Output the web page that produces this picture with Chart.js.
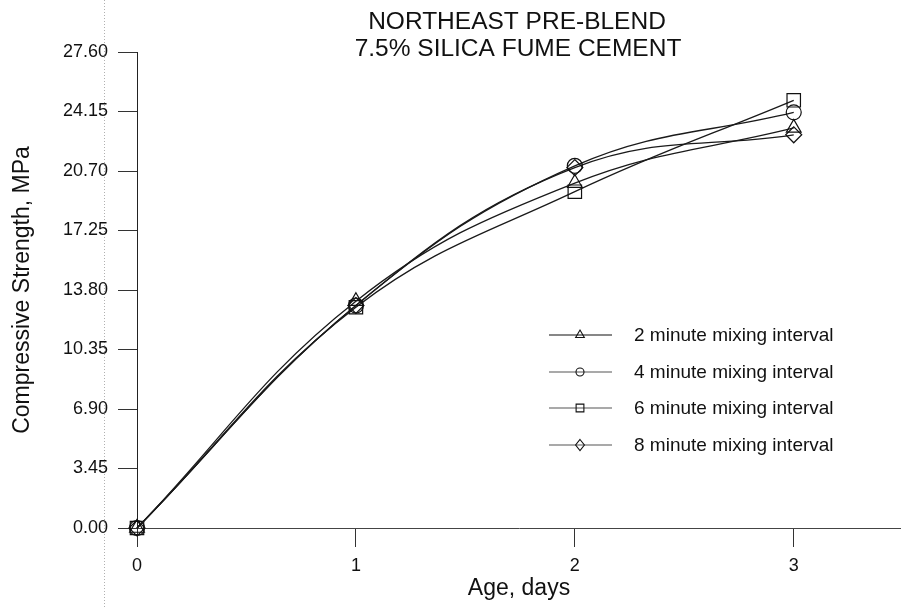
<!DOCTYPE html>
<html>
<head>
<meta charset="utf-8">
<script src="https://cdn.jsdelivr.net/npm/chart.js@4/dist/chart.umd.min.js"></script>
<style>
  html, body { margin: 0; padding: 0; background: #fff; }
  #wrap { width: 901px; height: 608px; position: relative; }
</style>
</head>
<body>
<div id="wrap"><canvas id="c" width="901" height="608"></canvas></div>
<script>
// ---- data ----
const ages = [0, 1, 2, 3];
const labels2min = "2 minute mixing interval";
const labels4min = "4 minute mixing interval";
const labels6min = "6 minute mixing interval";
const labels8min = "8 minute mixing interval";
const strength2min = [0, 13.15, 20.0, 23.2];
const strength4min = [0, 12.9, 21.0, 24.1];
const strength6min = [0, 12.8, 19.5, 24.8];
const strength8min = [0, 12.9, 20.9, 22.8];
const yTicks = [0, 3.45, 6.90, 10.35, 13.80, 17.25, 20.70, 24.15, 27.60];
const xTicks = [0, 1, 2, 3];
const titleLines = ["NORTHEAST PRE-BLEND", "7.5% SILICA FUME CEMENT"];

const FONT = "'Liberation Sans', Arial, sans-serif";

function series(label, values, style, radius, legendRadius) {
  return {
    label: label,
    data: ages.map((a, i) => ({ x: a, y: values[i] })),
    borderColor: '#1a1a1a',
    borderWidth: 1.3,
    backgroundColor: 'rgba(0,0,0,0)',
    pointStyle: style,
    pointRadius: radius,
    pointBorderColor: '#111',
    pointBackgroundColor: 'rgba(0,0,0,0)',
    pointBorderWidth: 1.2,
    tension: 0.4,
    fill: false,
    clip: false,
    legendRadius: legendRadius
  };
}

const datasets = [
  series(labels2min, strength2min, 'triangle', 8.5, 5),
  series(labels4min, strength4min, 'circle', 7.5, 4),
  series(labels6min, strength6min, 'rect', 9.5, 5.5),
  series(labels8min, strength8min, 'rectRot', 8, 5.5)
];

function drawMarker(ctx, style, r, x, y) {
  ctx.beginPath();
  if (style === 'circle') {
    ctx.arc(x, y, r, 0, Math.PI * 2);
  } else if (style === 'triangle') {
    ctx.moveTo(x, y - r);
    ctx.lineTo(x + r * Math.cos(Math.PI / 6), y + r * 0.5);
    ctx.lineTo(x - r * Math.cos(Math.PI / 6), y + r * 0.5);
    ctx.closePath();
  } else if (style === 'rect') {
    const s = r * Math.SQRT1_2;
    ctx.rect(x - s, y - s, 2 * s, 2 * s);
  } else if (style === 'rectRot') {
    ctx.moveTo(x, y - r);
    ctx.lineTo(x + r * 0.8, y);
    ctx.lineTo(x, y + r);
    ctx.lineTo(x - r * 0.8, y);
    ctx.closePath();
  }
  ctx.stroke();
}

const zeroPadding = () => ({ left: 0, right: 0, top: 0, bottom: 0 });

const decorPlugin = {
  id: 'decor',
  beforeDraw(chart) {
    const ctx = chart.ctx;
    const ca = chart.chartArea;
    ctx.save();
    // faint dotted scan line left of the axis
    ctx.strokeStyle = '#b0b0b0';
    ctx.lineWidth = 1;
    ctx.setLineDash([1, 2]);
    ctx.beginPath();
    ctx.moveTo(ca.left - 32.5, 0);
    ctx.lineTo(ca.left - 32.5, chart.height);
    ctx.stroke();
    ctx.restore();
  },
  afterDraw(chart) {
    const ctx = chart.ctx;
    ctx.save();
    // title
    ctx.fillStyle = '#111';
    ctx.font = "24.5px " + FONT;
    ctx.textAlign = 'center';
    ctx.textBaseline = 'middle';
    ctx.fillText(titleLines[0], 517, 22);
    ctx.fillText(titleLines[1], 518, 49);
    // legend
    const x0 = 549, x1 = 612, xm = 580, xt = 634;
    const rows = [335, 372, 408, 445];
    chart.data.datasets.forEach((ds, i) => {
      const y = rows[i];
      ctx.strokeStyle = i === 0 ? '#111' : '#555';
      ctx.lineWidth = 1.1;
      ctx.beginPath();
      ctx.moveTo(x0, y);
      ctx.lineTo(x1, y);
      ctx.stroke();
      ctx.strokeStyle = '#111';
      ctx.lineWidth = 1.1;
      drawMarker(ctx, ds.pointStyle, ds.legendRadius, xm, y);
      ctx.fillStyle = '#111';
      ctx.font = "19px " + FONT;
      ctx.textAlign = 'left';
      ctx.textBaseline = 'middle';
      ctx.fillText(ds.label, xt, y + 1);
    });
    ctx.restore();
  }
};

new Chart(document.getElementById('c'), {
  type: 'line',
  data: { datasets: datasets },
  plugins: [decorPlugin],
  options: {
    responsive: false,
    animation: false,
    layout: { autoPadding: false, padding: { top: 52, right: 0, left: 0, bottom: 0 } },
    plugins: {
      legend: { display: false },
      title: { display: false },
      tooltip: { enabled: false }
    },
    scales: {
      x: {
        type: 'linear',
        min: 0,
        max: 3.49,
        afterFit(scale) {
          scale.height = 80;
          scale.paddingLeft = 0; scale.paddingRight = 0;
          scale.getPadding = zeroPadding;
        },
        afterBuildTicks(scale) { scale.ticks = xTicks.map(v => ({ value: v })); },
        grid: { drawOnChartArea: false, drawTicks: true, tickLength: 19, color: '#333', tickWidth: 1 },
        border: { display: true, color: '#444', width: 1 },
        ticks: {
          padding: 8,
          color: '#111',
          font: { family: FONT, size: 18 },
          callback: v => String(v)
        },
        title: {
          display: true,
          text: 'Age, days',
          color: '#111',
          font: { family: FONT, size: 23 },
          padding: { top: 0, bottom: 6 }
        }
      },
      y: {
        type: 'linear',
        min: 0,
        max: 27.6,
        afterFit(scale) {
          scale.width = 137;
          scale.paddingTop = 0; scale.paddingBottom = 0;
          scale.getPadding = zeroPadding;
        },
        afterBuildTicks(scale) { scale.ticks = yTicks.map(v => ({ value: v })); },
        grid: { drawOnChartArea: false, drawTicks: true, tickLength: 19, color: '#333', tickWidth: 1 },
        border: { display: true, color: '#222', width: 1 },
        ticks: {
          padding: 10,
          color: '#111',
          font: { family: FONT, size: 18 },
          callback: v => Number(v).toFixed(2)
        },
        title: {
          display: true,
          text: 'Compressive Strength, MPa',
          color: '#111',
          font: { family: FONT, size: 23 },
          padding: { top: 9, bottom: 0 }
        }
      }
    }
  }
});
</script>
</body>
</html>
